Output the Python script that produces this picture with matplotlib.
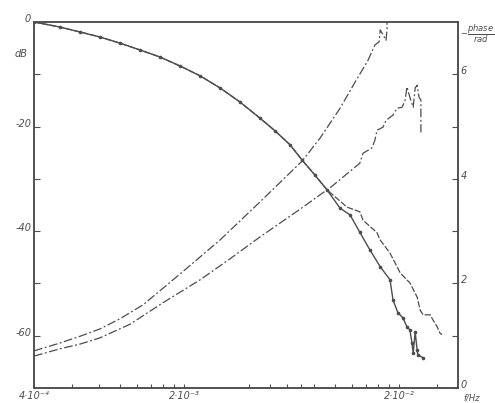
import matplotlib
matplotlib.use("Agg")
import matplotlib.pyplot as plt
import numpy as np

# --- data ---
# magnitude, part shared by both curves (f in Hz, dB)
mag_f_common = [4.0e-4, 5.28e-4, 6.55e-4, 8.11e-4, 1.0e-3, 1.245e-3, 1.54e-3, 1.91e-3, 2.37e-3,
                2.93e-3, 3.63e-3, 4.5e-3, 5.28e-3, 6.21e-3, 7.06e-3, 8.11e-3, 9.22e-3]
mag_db_common = [0, -0.96, -1.91, -2.87, -4.02, -5.35, -6.69, -8.41, -10.3,
                 -12.6, -15.3, -18.4, -20.8, -23.5, -26.4, -29.3, -32.1]

# lower (solid) magnitude branch
magA_f = [1.06e-2, 1.18e-2, 1.31e-2, 1.46e-2, 1.63e-2, 1.81e-2, 1.87e-2, 1.97e-2, 2.08e-2,
          2.17e-2, 2.24e-2, 2.29e-2, 2.32e-2, 2.37e-2, 2.42e-2, 2.44e-2, 2.58e-2]
magA_db = [-35.6, -36.9, -40.2, -43.6, -46.8, -49.3, -53.2, -55.6, -56.6,
           -58.3, -58.9, -61.4, -63.3, -59.3, -62.7, -63.7, -64.2]

# upper (dashed) magnitude branch
magB_f = [1.142e-2, 1.31e-2, 1.356e-2, 1.575e-2, 1.63e-2, 1.81e-2, 2.02e-2, 2.24e-2,
          2.42e-2, 2.50e-2, 2.58e-2, 2.78e-2, 2.87e-2, 3.0e-2, 3.09e-2, 3.16e-2]
magB_db = [-35.4, -36.3, -37.9, -40.3, -41.7, -44.2, -48.0, -49.9,
           -52.6, -55.1, -56.0, -56.0, -57.0, -58.3, -59.5, -59.8]

# phase curves (-phase in rad)
ph1_f = [4.0e-4, 5.28e-4, 6.55e-4, 8.11e-4, 1.0e-3, 1.285e-3, 1.91e-3, 2.93e-3, 4.5e-3,
         7.06e-3, 8.56e-3, 1.06e-2, 1.245e-2, 1.431e-2, 1.54e-2, 1.61e-2, 1.63e-2,
         1.735e-2, 1.754e-2, 1.754e-2]
ph1_rad = [0.71, 0.86, 0.99, 1.13, 1.32, 1.59, 2.18, 2.83, 3.56,
           4.34, 4.78, 5.35, 5.85, 6.27, 6.56, 6.62, 6.85,
           6.65, 6.88, 7.0]

ph2_f = [4.0e-4, 5.28e-4, 6.55e-4, 8.11e-4, 1.119e-3, 1.59e-3, 2.37e-3, 3.26e-3, 4.5e-3,
         6.91e-3, 9.73e-3, 1.31e-2, 1.356e-2, 1.49e-2,
         1.54e-2, 1.575e-2, 1.681e-2, 1.735e-2, 1.87e-2, 1.95e-2, 2.06e-2, 2.13e-2,
         2.17e-2, 2.24e-2, 2.32e-2, 2.37e-2, 2.42e-2, 2.47e-2, 2.52e-2, 2.52e-2]
ph2_rad = [0.61, 0.75, 0.84, 0.96, 1.22, 1.63, 2.07, 2.47, 2.89,
           3.42, 3.86, 4.30, 4.49, 4.59,
           4.74, 4.93, 4.99, 5.12, 5.22, 5.35, 5.37, 5.51,
           5.76, 5.56, 5.37, 5.74, 5.79, 5.56, 5.51, 4.89]

x_major = [4e-4, 2e-3, 2e-2]
x_major_labels = ["4·10⁻⁴", "2·10⁻³", "2·10⁻²"]
x_minor = [6e-4, 8e-4, 1e-3, 1.2e-3, 1.4e-3, 1.6e-3, 1.8e-3, 4e-3, 5e-3, 6e-3, 7e-3,
           8e-3, 1e-2, 1.2e-2, 1.4e-2, 1.6e-2, 1.8e-2, 3e-2]

ink = "#4d4d4d"
plt.rcParams["font.family"] = ["DejaVu Sans"]

fig = plt.figure(figsize=(4.95, 4.03), dpi=100)
ax = fig.add_axes([0.0687, 0.0372, 0.8566, 0.9082])
ax2 = ax.twinx()

# magnitude
fA = mag_f_common + magA_f
dA = mag_db_common + magA_db
fB = mag_f_common + magB_f
dB = mag_db_common + magB_db
ax.plot(fA, dA, color=ink, lw=1.0, marker="o", ms=1.6)
ax.plot(fB, dB, color=ink, lw=0.9, dashes=(5, 1.5))

# phase
ax2.plot(ph1_f, ph1_rad, color=ink, lw=0.9, dashes=(7, 2, 1.5, 2))
ax2.plot(ph2_f, ph2_rad, color=ink, lw=0.9, dashes=(7, 2, 1.5, 2))

ax.set_xscale("log")
ax.set_xlim(4e-4, 3.75e-2)
ax.set_ylim(-70, 0)
ax2.set_ylim(0, 7)

ax.set_xticks(x_major)
ax.set_xticklabels(x_major_labels, fontstyle="italic", fontsize=7, color=ink)
ax.set_xticks(x_minor, minor=True)
ax.xaxis.set_minor_formatter(matplotlib.ticker.NullFormatter())
ax.tick_params(axis="x", which="both", direction="in", length=3, width=0.8, color=ink, pad=2)

ax.set_yticks([0, -20, -40, -60])
ax.set_yticklabels(["0", "-20", "-40", "-60"], fontstyle="italic", fontsize=7, color=ink)
ax.set_yticks([-10, -30, -50], minor=True)
ax.tick_params(axis="y", which="both", direction="in", length=4, width=0.8, color=ink, pad=2)
for t in ax.get_yticklabels():
    t.set_va("baseline")

ax2.set_yticks([0, 2, 4, 6])
ax2.set_yticklabels(["0", "2", "4", "6"], fontstyle="italic", fontsize=7, color=ink)
ax2.set_yticks([1, 3, 5], minor=True)
ax2.tick_params(axis="y", which="both", direction="in", length=4, width=0.8, color=ink, pad=2)
for t in ax2.get_yticklabels():
    t.set_va("baseline")

for a in (ax, ax2):
    for s in a.spines.values():
        s.set_color(ink)
        s.set_linewidth(1.1)

fig.text(15 / 495, 1 - 54 / 403, "dB", fontstyle="italic", fontsize=7, color=ink,
         ha="left", va="center")
fig.text(460 / 495, 1 - 34 / 403, r"$-\dfrac{phase}{rad}$", fontsize=6, color=ink,
         ha="left", va="center")
fig.text(463 / 495, 1 - 398 / 403, "f/Hz", fontstyle="italic", fontsize=6, color=ink,
         ha="left", va="center")

fig.savefig("out.png", dpi=100, facecolor="white")
